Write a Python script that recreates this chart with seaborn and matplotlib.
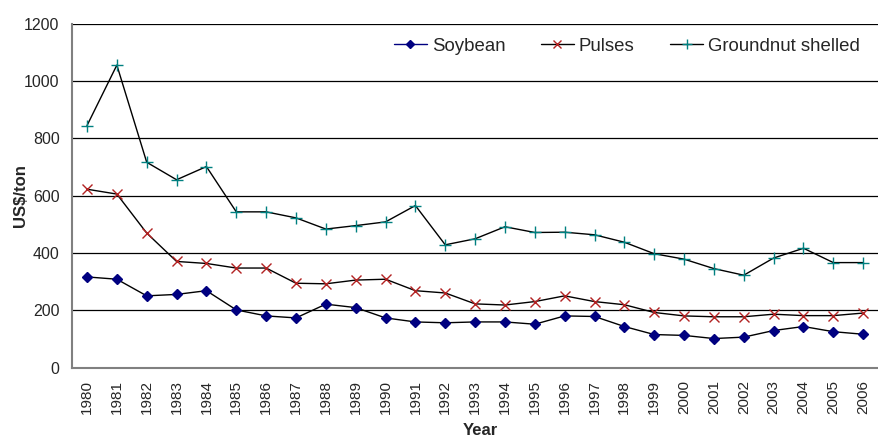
import pandas as pd
import numpy as np
import matplotlib.pyplot as plt
from matplotlib.lines import Line2D
from matplotlib.ticker import FixedLocator
import seaborn as sns

# ── 데이터 ──────────────────────────────────────────────────────────────
years = list(range(1980, 2007))
soybean = [317, 309, 251, 256, 269, 202, 181, 174, 222, 210, 174, 160, 157, 160,
           160, 152, 181, 179, 144, 116, 113, 102, 107, 130, 144, 126, 117]
pulses = [623, 606, 470, 371, 364, 348, 348, 295, 293, 306, 309, 269, 261, 223,
          219, 231, 251, 231, 220, 193, 181, 178, 178, 187, 182, 182, 191]
groundnut = [845, 1056, 717, 656, 702, 544, 544, 523, 484, 496, 509, 566, 429, 450,
             492, 472, 473, 464, 438, 398, 379, 346, 323, 383, 417, 367, 367]

series = {'Soybean': soybean, 'Pulses': pulses, 'Groundnut shelled': groundnut}
styles = {
    'Soybean':           dict(marker='D', c='#000080', ms=5.5),
    'Pulses':            dict(marker='x', c='#B22222', ms=6.5),
    'Groundnut shelled': dict(marker='+', c='#008080', ms=8),
}
legend_line = {'Soybean': '#000080', 'Pulses': 'black', 'Groundnut shelled': 'black'}

df = pd.DataFrame({'Year': years, **series})

sns.set_style('white')
plt.rcParams['font.family'] = ['Liberation Sans', 'DejaVu Sans']

fig, ax = plt.subplots(figsize=(8.79, 4.41), dpi=100)
fig.subplots_adjust(left=0.082, right=0.999, top=0.946, bottom=0.166)

for name in series:
    st = styles[name]
    sns.lineplot(data=df, x='Year', y=name, ax=ax, color='black', lw=1.0,
                 marker=st['marker'], markersize=st['ms'],
                 markerfacecolor=st['c'], markeredgecolor=st['c'],
                 markeredgewidth=1.0, zorder=3)

ax.set_xlim(years[0] - 0.5, years[-1] + 0.5)
ax.set_ylim(0, 1200)
ax.set_yticks(range(0, 1201, 200))
ax.set_xticks(years)
ax.set_xticklabels([str(y) for y in years], rotation=90, fontsize=11)
ax.tick_params(axis='x', length=0, pad=9)
ax.xaxis.set_minor_locator(FixedLocator(np.arange(years[0] - 0.5, years[-1] + 1, 1)))
ax.tick_params(axis='x', which='minor', length=4, width=1, color='#808080', direction='out')
ax.tick_params(axis='y', length=6, width=1, color='#808080', direction='inout',
               labelsize=11.5, pad=6)

ax.yaxis.grid(True, color='black', lw=0.9)
ax.set_axisbelow(True)
for s in ['top', 'right']:
    ax.spines[s].set_visible(False)
for s in ['left', 'bottom']:
    ax.spines[s].set_color('#808080')
    ax.spines[s].set_linewidth(1.5)

ax.set_xlabel('Year', fontsize=12, fontweight='bold')
ax.set_ylabel('US$/ton', fontsize=12, fontweight='bold')
ax.xaxis.set_label_coords(0.506, -0.183)
ax.yaxis.set_label_coords(-0.0645, 0.5)
ax.xaxis.label.set_va('center')
ax.yaxis.label.set_va('center')

handles = [Line2D([], [], color=legend_line[n], lw=1.0, marker=styles[n]['marker'],
                  markersize=styles[n]['ms'] - 1, markerfacecolor=styles[n]['c'],
                  markeredgecolor=styles[n]['c']) for n in series]
ax.legend(handles, list(series), ncol=3, frameon=False, fontsize=13.4,
          loc='center right', bbox_to_anchor=(860 / 879, 1 - 46 / 441),
          bbox_transform=fig.transFigure, borderaxespad=0, borderpad=0,
          handlelength=1.8, handletextpad=0.25, columnspacing=1.9)

fig.savefig('out.png', dpi=100)
